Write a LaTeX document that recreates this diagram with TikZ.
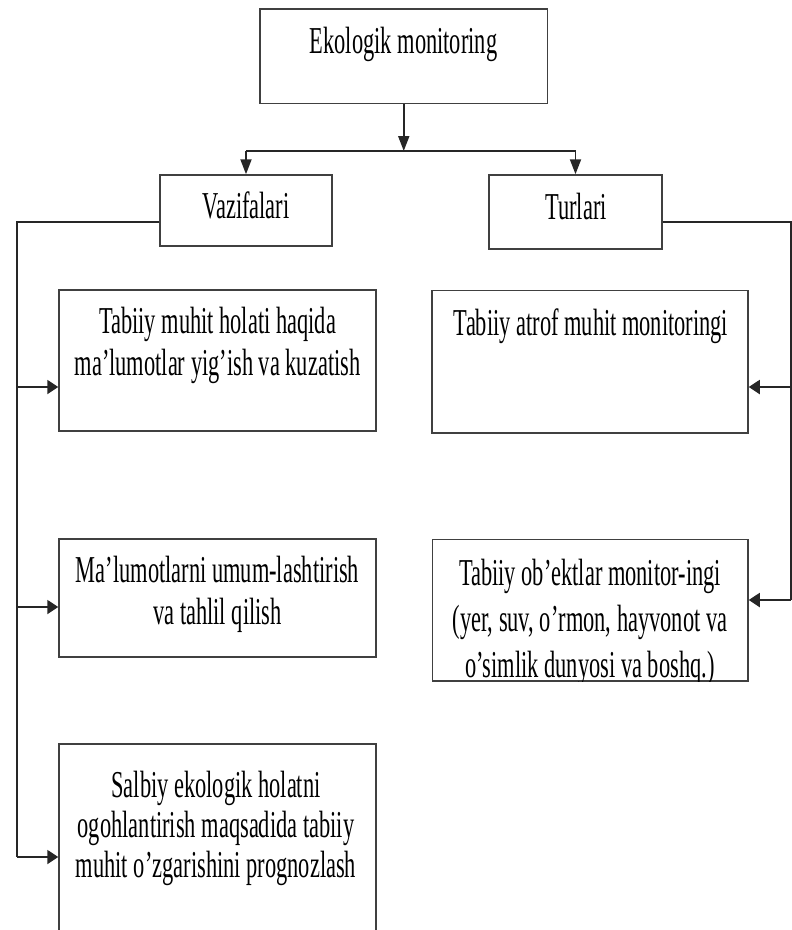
\documentclass[tikz,border=0pt]{standalone}
\usepackage{fontspec}
\setmainfont{Liberation Serif}[FakeStretch=0.59]
\usetikzlibrary{arrows.meta}
\begin{document}
\begin{tikzpicture}[x=1pt,y=-1pt,
  box/.style={draw=black!75,line width=1.5pt,rectangle,inner sep=0pt},
  lbl/.style={anchor=base,align=center,inner sep=0pt,font=\fontsize{38}{41.5}\selectfont},
  conn/.style={draw=black!85,line width=1.9pt},
  varr/.style={conn,-{Triangle[length=15pt,width=11pt]}},
  harr/.style={conn,-{Triangle[length=11pt,width=14pt]}}]
\useasboundingbox (0,0) rectangle (792,930);
\clip (0,0) rectangle (792,930);
% boxes
\node[box,minimum width=287.5pt,minimum height=94.5pt] (top) at (403.75,56.25) {};
\node[box,minimum width=172pt,minimum height=71pt] (vaz) at (246,210.5) {};
\node[box,minimum width=173pt,minimum height=74pt] (tur) at (575.5,212) {};
\node[box,minimum width=317pt,minimum height=141pt] (b1) at (217.5,360.5) {};
\node[box,minimum width=317pt,minimum height=118pt] (b2) at (217.5,598) {};
\node[box,minimum width=317pt,minimum height=250pt] (b3) at (217.5,869) {};
\node[box,minimum width=316pt,minimum height=142.5pt] (r1) at (590,361.75) {};
\node[box,minimum width=315.5pt,minimum height=141.5pt] (r2) at (590.25,610.25) {};
% texts (base anchor = baseline of the last line)
\node[lbl] (t0) at (403.5,53) {Ekologik monitoring};
\node[lbl] (tv) at (246,218) {Vazifalari};
\node[lbl] (tt) at (576,219) {Turlari};
\node[lbl] (t1) at (217.5,375) {Tabiiy muhit holati haqida\\ma’lumotlar yig’ish va kuzatish};
\node[lbl] (t2) at (217.5,624) {Ma’lumotlarni umum-lashtirish\\va tahlil qilish};
\node[lbl,font=\fontsize{38}{40}\selectfont] (t3) at (216,877) {Salbiy ekologik holatni\\ogohlantirish maqsadida tabiiy\\muhit o’zgarishini prognozlash};
\node[lbl] (t4) at (591,335) {Tabiiy atrof muhit monitoringi};
\begin{scope}
\clip (r2.north west) rectangle (r2.south east);
\node[lbl,font=\fontsize{38}{46}\selectfont] (t5) at (590,677) {Tabiiy ob’ektlar monitor-ingi\\(yer, suv, o’rmon, hayvonot va\\o’simlik dunyosi va boshq.)};
\end{scope}
% connectors
\coordinate (jn) at (403.75,151);
\coordinate (hl) at (246,151);
\coordinate (hr) at (575.5,151);
\draw[varr] (top.south) -- (jn);
\draw[conn] (hl) -- (hr);
\draw[varr] (hl) -- (vaz.north);
\draw[varr] (hr) -- (tur.north);
\coordinate (L0) at (17,222);
\coordinate (L1) at (17,387);
\coordinate (L2) at (17,607);
\coordinate (L3) at (17,857);
\draw[conn] (vaz.west |- L0) -- (L0) -- (L3);
\draw[harr] (L1) -- (L1 -| b1.west);
\draw[harr] (L2) -- (L2 -| b2.west);
\draw[harr] (L3) -- (L3 -| b3.west);
\coordinate (R0) at (791,222);
\coordinate (R1) at (791,387);
\coordinate (R2) at (791,600);
\draw[conn] (tur.east |- R0) -- (R0) -- (R2);
\draw[harr] (R1) -- (R1 -| r1.east);
\draw[harr] (R2) -- (R2 -| r2.east);
\end{tikzpicture}
\end{document}
